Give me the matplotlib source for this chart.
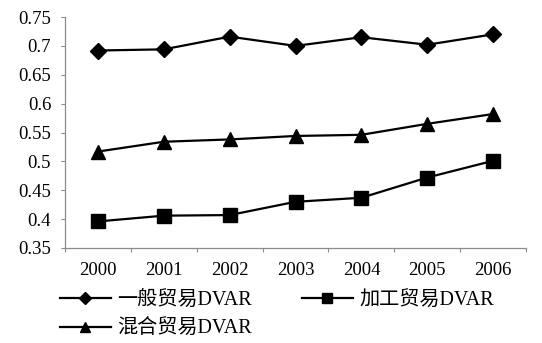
import matplotlib
matplotlib.use("Agg")
import matplotlib.pyplot as plt
from matplotlib.ticker import FixedLocator

plt.rcParams['font.family'] = ['Liberation Serif', 'Noto Sans CJK SC', 'DejaVu Sans']

years = ['2000', '2001', '2002', '2003', '2004', '2005', '2006']
general_trade = [0.692, 0.694, 0.716, 0.700, 0.715, 0.702, 0.720]
processing_trade = [0.396, 0.406, 0.407, 0.430, 0.437, 0.472, 0.501]
mixed_trade = [0.517, 0.534, 0.538, 0.544, 0.546, 0.565, 0.582]
y_ticks = [0.35, 0.4, 0.45, 0.5, 0.55, 0.6, 0.65, 0.7, 0.75]

labels = ['一般贸易DVAR', '加工贸易DVAR', '混合贸易DVAR']

fig = plt.figure(figsize=(5.42, 3.43), dpi=100)
ax = fig.add_axes([0.12, 0.277, 0.8505, 0.6734])

x = range(len(years))
l1, = ax.plot(x, general_trade, color='black', lw=1.6, marker='D', ms=8.5,
              label=labels[0])
l2, = ax.plot(x, processing_trade, color='black', lw=1.6, marker='s', ms=10,
              label=labels[1])
l3, = ax.plot(x, mixed_trade, color='black', lw=1.6, marker='^', ms=10,
              label=labels[2])

ax.set_xlim(-0.5, len(years) - 0.5)
ax.set_ylim(y_ticks[0], y_ticks[-1])
ax.yaxis.set_major_locator(FixedLocator(y_ticks))
ax.set_yticklabels([f'{v:g}' for v in y_ticks])

ax.set_xticks(list(x))
ax.set_xticklabels(years)
ax.xaxis.set_minor_locator(FixedLocator([i - 0.5 for i in range(len(years) + 1)]))
ax.tick_params(axis='x', which='major', length=0, pad=10, labelsize=13.5)
ax.tick_params(axis='x', which='minor', length=3, width=0.8, color='#8c8c8c',
               direction='out')
ax.tick_params(axis='y', length=3, width=0.8, color='#8c8c8c', pad=7,
               labelsize=13.5)

for side in ('top', 'right'):
    ax.spines[side].set_visible(False)
for side in ('left', 'bottom'):
    ax.spines[side].set_color('#8c8c8c')
    ax.spines[side].set_linewidth(0.9)

fig.legend([l1, l3, l2], [labels[0], labels[2], labels[1]], ncol=2,
           loc='upper left', bbox_to_anchor=(0.111, 0.153), frameon=False,
           fontsize=14.5, handlelength=2.5, handletextpad=0.33,
           columnspacing=2.5, labelspacing=0.5, markerscale=0.75,
           borderaxespad=0, borderpad=0)

fig.savefig('out.png', dpi=100, facecolor='white')
